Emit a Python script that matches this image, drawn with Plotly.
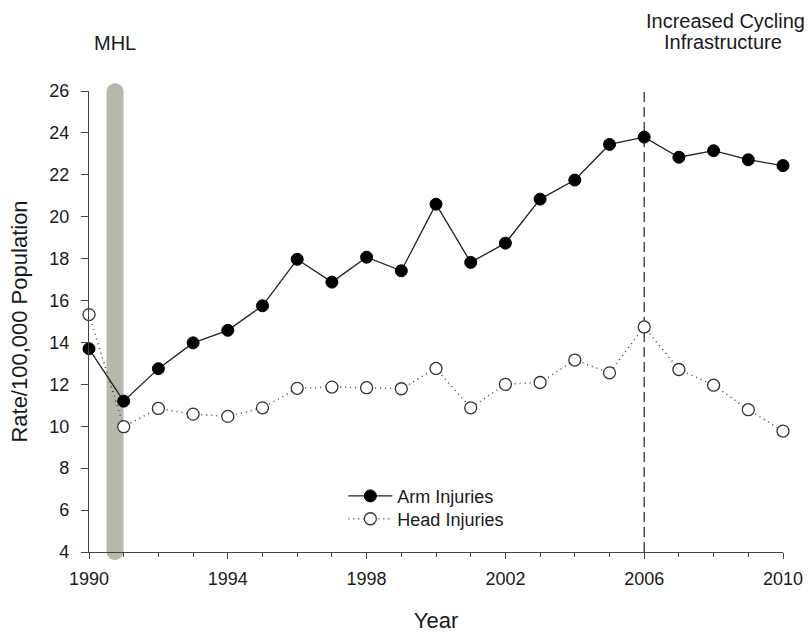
import plotly.graph_objects as go

years = list(range(1990, 2011))
arm_injuries = [13.7, 11.2, 12.75, 13.98, 14.58, 15.75, 17.97, 16.88, 18.07, 17.42, 20.6,
                17.82, 18.74, 20.84, 21.75, 23.45, 23.8, 22.84, 23.15, 22.72, 22.44]
head_injuries = [15.33, 9.98, 10.85, 10.58, 10.47, 10.88, 11.81, 11.87, 11.84, 11.79, 12.76,
                 10.88, 12.0, 12.09, 13.16, 12.55, 14.74, 12.71, 11.96, 10.79, 9.77]
y_ticks = [4, 6, 8, 10, 12, 14, 16, 18, 20, 22, 24, 26]
x_ticks = [1990, 1994, 1998, 2002, 2006, 2010]
MHL_YEAR = 1990.75
INFRA_YEAR = 2006

FONT = "Liberation Sans, Arial, sans-serif"
TXT = "#1a1a1a"
AX = "#444444"

fig = go.Figure()

fig.add_trace(go.Scatter(
    x=years, y=arm_injuries, name="Arm Injuries", mode="lines+markers",
    line=dict(color="#222222", width=1.3),
    marker=dict(symbol="circle", size=12, color="#000000", line=dict(color="#000000", width=1)),
    cliponaxis=False, legend="legend",
))
fig.add_trace(go.Scatter(
    x=years, y=head_injuries, name="Head Injuries", mode="lines+markers",
    line=dict(color="#444444", width=1.5, dash="1px,4px"),
    marker=dict(symbol="circle", size=12, color="#ffffff", line=dict(color="#333333", width=1.3)),
    cliponaxis=False, legend="legend2",
))

# MHL bar (rounded ends)
hw = 0.245          # half width in years
ytop, ybot = 1.0167, -0.0173
r = 0.0184          # corner radius in paper units
x0, x1, xc = MHL_YEAR - hw, MHL_YEAR + hw, MHL_YEAR
k = 0.55
path = (
    f"M{x0},{ybot + r} L{x0},{ytop - r} "
    f"C{x0},{ytop - r + k * r} {xc - k * hw},{ytop} {xc},{ytop} "
    f"C{xc + k * hw},{ytop} {x1},{ytop - r + k * r} {x1},{ytop - r} "
    f"L{x1},{ybot + r} "
    f"C{x1},{ybot + r - k * r} {xc + k * hw},{ybot} {xc},{ybot} "
    f"C{xc - k * hw},{ybot} {x0},{ybot + r - k * r} {x0},{ybot + r} Z"
)
fig.add_shape(type="path", path=path, xref="x", yref="paper",
              fillcolor="#b8b7ab", line=dict(width=0), layer="below")

# Infrastructure dashed line
fig.add_shape(type="line", xref="x", yref="y", x0=INFRA_YEAR, x1=INFRA_YEAR, y0=4, y1=26,
              line=dict(color="#333333", width=1.3, dash="10px,5px"), layer="below")

fig.add_annotation(text="MHL", x=MHL_YEAR, xref="x", y=1, yref="paper", yshift=48,
                   xanchor="center", yanchor="middle", showarrow=False,
                   font=dict(family=FONT, size=20, color=TXT))
fig.add_annotation(text="Increased Cycling", x=INFRA_YEAR, xref="x", y=1, yref="paper", yshift=70,
                   xanchor="left", yanchor="middle", showarrow=False,
                   font=dict(family=FONT, size=20, color=TXT))
fig.add_annotation(text="Infrastructure", x=INFRA_YEAR, xref="x", y=1, yref="paper", yshift=49,
                   xanchor="center", xshift=79, yanchor="middle", showarrow=False,
                   font=dict(family=FONT, size=20, color=TXT))

legend_style = dict(xanchor="left", yanchor="middle", bgcolor="rgba(0,0,0,0)", borderwidth=0,
                    itemwidth=44, font=dict(family=FONT, size=18, color=TXT))

fig.update_layout(
    width=808, height=633,
    margin=dict(l=89, r=25, t=91, b=81, autoexpand=False),
    paper_bgcolor="white", plot_bgcolor="white",
    font=dict(family=FONT, size=18, color=TXT),
    showlegend=True,
    legend=dict(x=0.3665, y=0.121, **legend_style),
    legend2=dict(x=0.3665, y=0.0715, **legend_style),
    xaxis=dict(range=[1990, 2010], tickmode="array", tickvals=x_ticks,
               ticktext=[str(v) for v in x_ticks], automargin=False,
               showgrid=False, zeroline=False, showline=True, linecolor=AX, linewidth=1.3,
               ticks="outside", ticklen=6, tickwidth=1.3, tickcolor=AX,
               ticklabelstandoff=4,
               minor=dict(dtick=1, tick0=1990, ticks="outside", ticklen=4, tickwidth=1.2,
                          tickcolor=AX, showgrid=False),
               title=dict(text="Year", font=dict(family=FONT, size=22, color=TXT), standoff=30)),
    yaxis=dict(range=[4, 26], tickmode="array", tickvals=y_ticks, automargin=False,
               showgrid=False, zeroline=False, showline=True, linecolor=AX, linewidth=1.3,
               ticks="outside", ticklen=7, tickwidth=1.3, tickcolor=AX,
               ticklabelstandoff=8,
               title=dict(text="Rate/100,000 Population",
                          font=dict(family=FONT, size=22, color=TXT), standoff=15)),
)

fig.write_html("out.html", config={"displayModeBar": False},
               post_script="document.body.style.margin='0';document.body.style.overflow='hidden';")
